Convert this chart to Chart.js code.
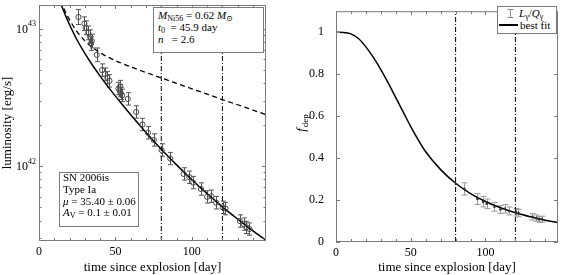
<!DOCTYPE html>
<html>
<head>
<meta charset="utf-8">
<script src="https://cdn.jsdelivr.net/npm/chart.js@4.4.1/dist/chart.umd.min.js"></script>
<style>
  html, body { margin: 0; padding: 0; background: #fff; }
  #wrap { position: relative; width: 562px; height: 275px; overflow: hidden;
          font-family: 'Liberation Serif', 'DejaVu Serif', serif; color: #000; }
  canvas { position: absolute; top: 0; }
  #cL { left: 0; }
  #cR { left: 280px; }
  .box { position: absolute; background: #fff; border: 1px solid #7a7a7a; box-sizing: border-box; }
  .ln  { position: absolute; font-size: 11px; line-height: 12px; white-space: nowrap; }
  .ln sub { font-size: 8px; vertical-align: -2px; line-height: 0; }
</style>
</head>
<body>
<div id="wrap">
  <canvas id="cL" width="280" height="275"></canvas>
  <canvas id="cR" width="282" height="275"></canvas>

  <!-- fit parameters -->
  <div class="box" style="left:153px;top:7px;width:111px;height:46px"></div>
  <div class="ln" style="left:158px;top:9px"><i>M</i><sub>Ni56</sub> = 0.62 <i>M</i><sub>⊙</sub></div>
  <div class="ln" style="left:158px;top:20.5px"><i>t</i><sub>0</sub> &nbsp;= 45.9 day</div>
  <div class="ln" style="left:158px;top:33px"><i>n</i> &nbsp;&nbsp;= 2.6</div>

  <!-- object info -->
  <div class="box" style="left:59px;top:172px;width:80px;height:55px"></div>
  <div class="ln" style="left:63px;top:171px">SN 2006is</div>
  <div class="ln" style="left:63px;top:182.5px">Type Ia</div>
  <div class="ln" style="left:63px;top:194.5px"><i>μ</i> = 35.40 ± 0.06</div>
  <div class="ln" style="left:63px;top:206px"><i>A</i><sub>V</sub> = 0.1 ± 0.01</div>

  <!-- legend of right panel -->
  <div class="box" style="left:497px;top:6px;width:60px;height:28px"></div>
  <svg style="position:absolute;left:506px;top:8px" width="9" height="11">
    <path d="M1.5 1.5H7.5M4.5 1.5V9.5M1.5 9.5H7.5" stroke="#8a8a8a" stroke-width="1" fill="none"/>
  </svg>
  <div class="ln" style="left:519px;top:7px"><i>L</i><sub>γ</sub>/<i>Q</i><sub>γ</sub></div>
  <div style="position:absolute;left:499px;top:24px;width:19px;height:1.5px;background:#000"></div>
  <div class="ln" style="left:520px;top:18.5px">best fit</div>
</div>

<script>
// ===== DADOS =====
const SERIF = "'Liberation Serif', 'DejaVu Serif', serif";

// observed bolometric luminosity (erg/s) and error (dex)
const obsDays = [25.8, 29.7, 30.6, 32.3, 33.4, 34.1, 34.5, 37.8, 41.3, 43.0, 44.8, 46.1,
                 52.0, 52.7, 53.0, 53.5, 54.4, 58.1, 63.6, 67.7, 71.3, 75.1, 80.2, 85.9,
                 94.6, 98.4, 100.8, 106.0, 110.0, 112.8, 115.9, 120.3, 122.0, 131.4, 134.0, 135.7, 137.7];
const obsLum  = [1.22e43, 1.09e43, 1.02e43, 9.35e42, 8.77e42, 7.82e42, 8.15e42, 6.47e42, 5.01e42, 4.68e42, 4.40e42, 4.18e42,
                 3.68e42, 3.55e42, 3.80e42, 3.39e42, 3.28e42, 3.09e42, 2.48e42, 2.01e42, 1.75e42, 1.55e42, 1.31e42, 1.135e42,
                 8.77e41, 8.30e41, 7.59e41, 6.81e41, 5.97e41, 6.03e41, 5.41e41, 5.01e41, 4.90e41, 3.98e41, 3.78e41, 3.58e41, 3.48e41];
const obsErrDex = [0.055, 0.05, 0.05, 0.05, 0.05, 0.05, 0.05, 0.05, 0.045, 0.045, 0.045, 0.045,
                   0.045, 0.045, 0.045, 0.045, 0.045, 0.045, 0.045, 0.045, 0.045, 0.045, 0.045, 0.045,
                   0.045, 0.045, 0.045, 0.045, 0.045, 0.045, 0.045, 0.045, 0.045, 0.045, 0.045, 0.045, 0.045];

// best fit light curve
const fitDays = [14, 16, 18, 20, 22, 25, 30, 35, 40, 45, 50, 55, 60, 70, 80, 90, 100, 110, 120, 130, 140, 148.5];
const fitLum  = [1.552e43, 1.361e43, 1.202e43, 1.072e43, 9.616e42, 8.260e42, 6.622e42, 5.433e42, 4.529e42, 3.811e42, 3.236e42,
                 2.761e42, 2.366e42, 1.758e42, 1.327e42, 1.021e42, 7.96e41, 6.30e41, 5.05e41, 4.11e41, 3.37e41, 2.88e41];

// total radioactive input (full trapping)
const qDays = [14, 16, 18, 20, 22, 25, 30, 35, 40, 45, 50, 60, 70, 80, 90, 100, 110, 120, 130, 140, 148.5];
const qLum  = [1.607e43, 1.429e43, 1.282e43, 1.164e43, 1.067e43, 9.51e42, 8.18e42, 7.31e42, 6.70e42, 6.24e42, 5.87e42,
               5.28e42, 4.81e42, 4.39e42, 4.01e42, 3.66e42, 3.35e42, 3.05e42, 2.80e42, 2.56e42, 2.37e42];

// deposition fraction
const depDays = [85.9, 94.6, 98.4, 100.8, 106.0, 110.0, 112.8, 115.9, 120.3, 122.0, 131.4, 134.0, 135.7, 137.7];
const depObs  = [0.253, 0.205, 0.192, 0.182, 0.168, 0.155, 0.158, 0.148, 0.142, 0.138, 0.120, 0.114, 0.108, 0.109];
const depErr  = [0.029, 0.026, 0.025, 0.023, 0.021, 0.019, 0.020, 0.019, 0.018, 0.018, 0.015, 0.015, 0.014, 0.014];

const depFitDays = [0, 5, 10, 15, 20, 25, 30, 35, 40, 45, 50, 55, 60, 70, 80, 90, 100, 110, 120, 130, 140, 148.5];
const depFit     = [1.0, 0.999, 0.992, 0.970, 0.930, 0.880, 0.822, 0.757, 0.688, 0.619, 0.550, 0.487, 0.430, 0.345,
                    0.28, 0.231, 0.193, 0.163, 0.139, 0.12, 0.104, 0.093];

// fit window and axes
const fitWindow = [80, 120];
const xRange = [0, 148.5];
const xTicks = [0, 10, 20, 30, 40, 50, 60, 70, 80, 90, 100, 110, 120, 130, 140];
const xMajor = [0, 50, 100];
const lumRange = [2.847e41, 1.4926e43];
const lumMajor = [1e42, 1e43];
const lumMinor = [3e41, 4e41, 5e41, 6e41, 7e41, 8e41, 9e41, 2e42, 3e42, 4e42, 5e42, 6e42, 7e42, 8e42, 9e42];
const depRange = [0, 1.1];
const depTicks = [0, 0.2, 0.4, 0.6, 0.8, 1];


// ===== PLUGINS =====
function frameTicks(yMajor, yMinor) {
  return {
    id: 'frameTicks',
    afterDraw(chart) {
      const { ctx, chartArea: a, scales: { x, y } } = chart;
      ctx.save();
      ctx.strokeStyle = '#7a7a7a';
      ctx.lineWidth = 1;
      ctx.beginPath();
      xTicks.forEach(v => {
        const px = Math.round(x.getPixelForValue(v)) + 0.5;
        const len = xMajor.includes(v) ? 4 : 3;
        ctx.moveTo(px, a.bottom); ctx.lineTo(px, a.bottom - len);
        ctx.moveTo(px, a.top);    ctx.lineTo(px, a.top + len);
      });
      yMajor.concat(yMinor).forEach(v => {
        const py = Math.round(y.getPixelForValue(v)) + 0.5;
        const len = yMajor.includes(v) ? 4 : 2.5;
        ctx.moveTo(a.left, py);  ctx.lineTo(a.left + len, py);
        ctx.moveTo(a.right, py); ctx.lineTo(a.right - len, py);
      });
      ctx.stroke();
      ctx.strokeRect(a.left + 0.5, a.top + 0.5, a.width - 1, a.height - 1);
      ctx.restore();
    }
  };
}

function errBars(xs, lo, hi, color, cap) {
  return {
    id: 'errBars',
    beforeDatasetsDraw(chart) {
      const { ctx, scales: { x, y } } = chart;
      ctx.save();
      ctx.strokeStyle = color;
      ctx.lineWidth = 1;
      ctx.beginPath();
      xs.forEach((d, i) => {
        const px = Math.round(x.getPixelForValue(d)) + 0.5;
        const p1 = y.getPixelForValue(lo[i]);
        const p2 = y.getPixelForValue(hi[i]);
        ctx.moveTo(px, p1); ctx.lineTo(px, p2);
        ctx.moveTo(px - cap, p1); ctx.lineTo(px + cap, p1);
        ctx.moveTo(px - cap, p2); ctx.lineTo(px + cap, p2);
      });
      ctx.stroke();
      ctx.restore();
    }
  };
}

const logLabels = {
  id: 'logLabels',
  afterDraw(chart) {
    const { ctx, scales: { y } } = chart;
    ctx.save();
    ctx.fillStyle = '#000';
    ctx.textBaseline = 'middle';
    ctx.textAlign = 'right';
    lumMajor.forEach(v => {
      const py = y.getPixelForValue(v);
      const exp = String(Math.round(Math.log10(v)));
      ctx.font = '8px ' + SERIF;
      const ew = ctx.measureText(exp).width;
      ctx.fillText(exp, 36, py - 4.5);
      ctx.font = '12px ' + SERIF;
      ctx.fillText('10', 36 - ew, py + 1);
    });
    ctx.restore();
  }
};

const depTitle = {
  id: 'depTitle',
  afterDraw(chart) {
    const ctx = chart.ctx;
    ctx.save();
    ctx.translate(22, 123);
    ctx.rotate(-Math.PI / 2);
    ctx.fillStyle = '#000';
    ctx.textBaseline = 'middle';
    ctx.textAlign = 'left';
    ctx.font = 'italic 13px ' + SERIF;
    const fw = ctx.measureText('f').width;
    ctx.font = '9px ' + SERIF;
    const sw = ctx.measureText('dep').width;
    const x0 = -(fw + sw + 1) / 2;
    ctx.font = 'italic 13px ' + SERIF;
    ctx.fillText('f', x0, 0);
    ctx.font = '9px ' + SERIF;
    ctx.fillText('dep', x0 + fw + 1, 3.5);
    ctx.restore();
  }
};


// ===== HELPERS =====
const pts = (xs, ys) => xs.map((d, i) => ({ x: d, y: ys[i] }));

const windowSets = range => fitWindow.map(d => ({
  data: [{ x: d, y: range[0] }, { x: d, y: range[1] }],
  borderColor: '#000', borderWidth: 1, borderDash: [5, 2, 1, 2],
  pointRadius: 0, order: 3
}));

const xScale = {
  type: 'linear', min: xRange[0], max: xRange[1],
  grid: { display: false }, border: { display: false },
  afterBuildTicks: s => { s.ticks = xMajor.map(v => ({ value: v })); },
  ticks: { maxRotation: 0, color: '#000', autoSkip: false,
           font: { family: SERIF, size: 12 }, padding: -4,
           callback: v => String(v) },
  title: { display: true, text: 'time since explosion [day]', color: '#000',
           font: { family: SERIF, size: 13 }, padding: { top: 0, bottom: 0 } }
};


// ===== LEFT: LUMINOSITY =====
new Chart(document.getElementById('cL'), {
  type: 'line',
  data: {
    datasets: [
      { data: pts(obsDays, obsLum), showLine: false, pointRadius: 2.6, pointBorderWidth: 1,
        pointBorderColor: '#4a4a4a', pointBackgroundColor: 'rgba(0,0,0,0)', order: 0 },
      { data: pts(fitDays, fitLum), borderColor: '#000', borderWidth: 1.5, pointRadius: 0,
        cubicInterpolationMode: 'monotone', order: 1 },
      { data: pts(qDays, qLum), borderColor: '#000', borderWidth: 1.3, borderDash: [5, 3.5],
        pointRadius: 0, cubicInterpolationMode: 'monotone', order: 2 },
      ...windowSets(lumRange)
    ]
  },
  options: {
    responsive: false, animation: false,
    layout: { padding: { left: 0, right: 14, top: 0, bottom: 0 } },
    plugins: { legend: { display: false }, tooltip: { enabled: false } },
    scales: {
      x: { ...xScale, afterFit: s => { s.height = 34; } },
      y: {
        type: 'logarithmic', min: lumRange[0], max: lumRange[1],
        grid: { display: false }, border: { display: false },
        ticks: { display: false },
        title: { display: true, text: 'luminosity [erg/s]', color: '#000',
                 font: { family: SERIF, size: 13 }, padding: { top: 0, bottom: 0 } },
        afterFit: s => { s.width = 39; }
      }
    }
  },
  plugins: [
    errBars(obsDays,
            obsLum.map((v, i) => v / Math.pow(10, obsErrDex[i])),
            obsLum.map((v, i) => v * Math.pow(10, obsErrDex[i])),
            '#555', 2.5),
    frameTicks(lumMajor, lumMinor),
    logLabels
  ]
});


// ===== RIGHT: DEPOSITION FRACTION =====
new Chart(document.getElementById('cR'), {
  type: 'line',
  data: {
    datasets: [
      { data: pts(depDays, depObs), showLine: false, pointRadius: 1.3, pointBorderWidth: 0,
        pointBackgroundColor: '#333', order: 0 },
      { data: pts(depFitDays, depFit), borderColor: '#000', borderWidth: 1.5, pointRadius: 0,
        cubicInterpolationMode: 'monotone', order: 1 },
      ...windowSets(depRange)
    ]
  },
  options: {
    responsive: false, animation: false,
    layout: { padding: { left: 0, right: 1, top: 0, bottom: 0 } },
    plugins: { legend: { display: false }, tooltip: { enabled: false } },
    scales: {
      x: { ...xScale, afterFit: s => { s.height = 33; } },
      y: {
        type: 'linear', min: depRange[0], max: depRange[1],
        grid: { display: false }, border: { display: false },
        afterBuildTicks: s => { s.ticks = depTicks.map(v => ({ value: v })); },
        ticks: { color: '#000', autoSkip: false, font: { family: SERIF, size: 12 }, padding: 4,
                 callback: v => String(Math.round(v * 10) / 10) },
        afterFit: s => { s.width = 56; }
      }
    }
  },
  plugins: [
    errBars(depDays,
            depObs.map((v, i) => v - depErr[i]),
            depObs.map((v, i) => v + depErr[i]),
            '#9a9a9a', 3),
    frameTicks(depTicks, []),
    depTitle
  ]
});
</script>
</body>
</html>
